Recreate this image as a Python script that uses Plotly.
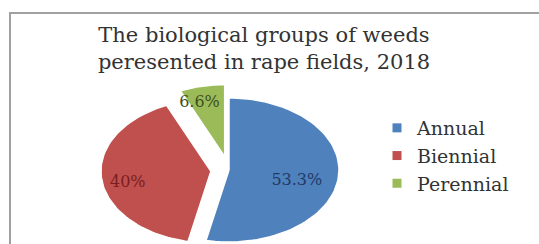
import numpy as np
import plotly.graph_objects as go

# ---- data ----
categories = ["Annual", "Biennial", "Perennial"]
values = [53.3, 40.0, 6.6]
labels = ["53.3%", "40%", "6.6%"]
colors = ["#4f81bd", "#c0504d", "#9bbb59"]
label_colors = ["#1f3a68", "#7a1e1e", "#3f5020"]
title_text = "The biological groups of weeds<br>peresented in rape fields, 2018"

# ---- style / geometry (window pixel space) ----
W, H = 539, 244
CX, CY = 229, 170          # pie centre
RA, RB = 110, 72           # ellipse semi-axes (horizontal, vertical)
pulls = [0.0, 0.165, 0.19] # explode fraction per slice
label_frac = [0.62, 0.76, 0.86]
label_ang = [0.5, 0.5, 0.35]
label_dy = 6
FONT = "DejaVu Serif"


def px(x):
    return x / W


def py(y):
    return 1 - y / H


fig = go.Figure()

total = sum(values)
start = 0.0
for i, (cat, v) in enumerate(zip(categories, values)):
    span = v / total * 2 * np.pi
    t0, t1 = start, start + span
    mid = (t0 + t1) / 2
    ox = CX + pulls[i] * RA * np.sin(mid)
    oy = CY - pulls[i] * RB * np.cos(mid)
    th = np.linspace(t0, t1, 80)
    xs = np.concatenate([[ox], ox + RA * np.sin(th), [ox]])
    ys = np.concatenate([[oy], oy - RB * np.cos(th), [oy]])
    fig.add_trace(go.Scatter(
        x=xs, y=ys, mode="lines", fill="toself",
        fillcolor=colors[i], line=dict(color="white", width=1.5),
        hoverinfo="skip", showlegend=False))
    la = t0 + label_ang[i] * span
    lx = ox + label_frac[i] * RA * np.sin(la)
    ly = oy - label_frac[i] * RB * np.cos(la) + label_dy
    fig.add_trace(go.Scatter(
        x=[lx], y=[ly], mode="text", text=[labels[i]],
        textfont=dict(family=FONT, size=16, color=label_colors[i]),
        hoverinfo="skip", showlegend=False))
    start = t1

# legend entries
for i, cat in enumerate(categories):
    fig.add_trace(go.Scatter(
        x=[None], y=[None], mode="markers", name=cat,
        legendgroup=cat,
        marker=dict(symbol="square", size=9, color=colors[i])))

fig.update_layout(
    width=W, height=H,
    margin=dict(l=0, r=0, t=0, b=0),
    paper_bgcolor="white", plot_bgcolor="white",
    xaxis=dict(range=[0, W], visible=False, fixedrange=True),
    yaxis=dict(range=[H, 0], visible=False, fixedrange=True),
    title=dict(text=title_text, x=px(264), xanchor="center",
               y=py(42), yanchor="middle",
               font=dict(family=FONT, size=21, color="#333333")),
    legend=dict(x=px(377), y=py(109), xanchor="left", yanchor="top",
                font=dict(family=FONT, size=19, color="#333333"),
                itemwidth=30, tracegroupgap=0, bgcolor="rgba(0,0,0,0)"),
    shapes=[dict(type="rect", xref="x", yref="y",
                 x0=10, y0=13, x1=W + 20, y1=H + 20,
                 line=dict(color="#a0a0a0", width=2))],
)

fig.write_html(
    "out.html",
    config={"displayModeBar": False, "staticPlot": True},
    post_script="document.body.style.margin='0';"
                "document.body.style.overflow='hidden';",
)
